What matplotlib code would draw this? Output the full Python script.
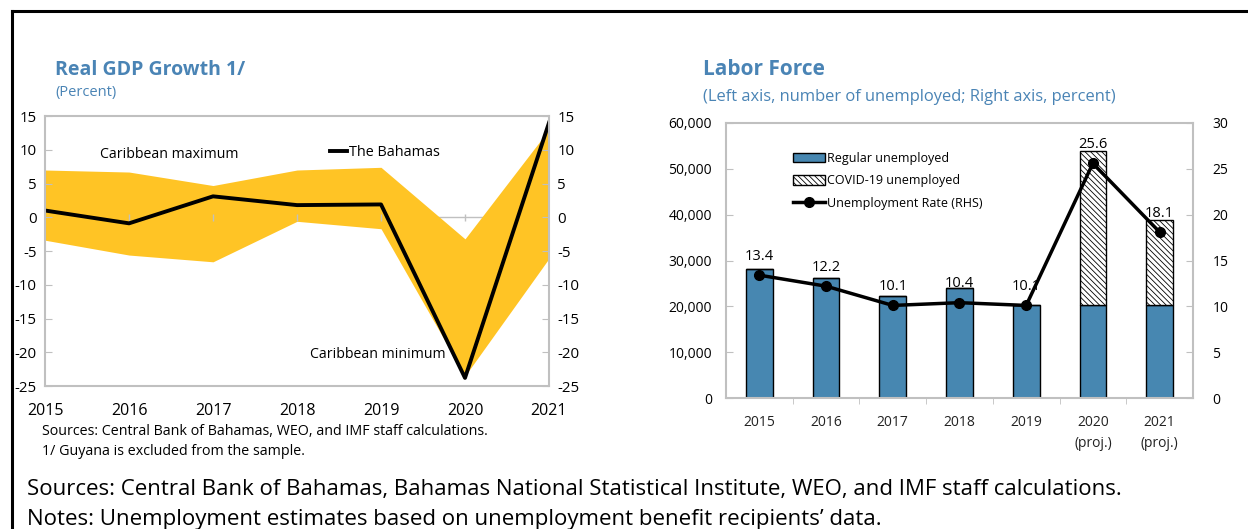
import matplotlib.pyplot as plt
import numpy as np
from matplotlib.ticker import FuncFormatter

plt.rcParams['font.family'] = ['Open Sans', 'DejaVu Sans']
plt.rcParams['hatch.linewidth'] = 0.6
plt.rcParams['axes.unicode_minus'] = False

# GDP growth panel
years = [2015, 2016, 2017, 2018, 2019, 2020, 2021]
bahamas = [1.0, -0.9, 3.1, 1.8, 1.9, -23.8, 14.0]
carib_max = [7.0, 6.7, 4.7, 7.0, 7.4, -3.2, 13.0]
carib_min = [-3.4, -5.6, -6.6, -0.6, -1.7, -23.5, -6.1]

# labor force panel
lf_labels = ["2015", "2016", "2017", "2018", "2019", "2020\n(proj.)", "2021\n(proj.)"]
regular = [28100, 26250, 22250, 24070, 20290, 20200, 20200]
covid = [0, 0, 0, 0, 0, 33600, 18700]
rate = [13.4, 12.2, 10.1, 10.4, 10.1, 25.6, 18.1]

blue_title = '#4A84B5'
frame = '#C0C0C0'
gold = '#FFC425'
bar_blue = '#4787B1'

fig = plt.figure(figsize=(12.48, 5.29), dpi=100)

# border lines
fig.add_artist(plt.Line2D([0.0096, 1.0], [0.979, 0.979], color='black', lw=2.2, transform=fig.transFigure))
fig.add_artist(plt.Line2D([0.0096, 0.0096], [0.979, 0.0], color='black', lw=2.2, transform=fig.transFigure))

# ---------- left panel ----------
ax1 = fig.add_axes([0.0361, 0.2703, 0.4038, 0.5104])
ax1.axhline(0, color=frame, lw=1.0, zorder=0.5)
ax1.fill_between(years, carib_min, carib_max, color=gold, lw=0, zorder=1)
ax1.vlines(years[1:-1], -0.5, 0.5, color=frame, lw=1.0, zorder=1.5)
ax1.plot(years, bahamas, color='black', lw=2.8, label='The Bahamas', zorder=2)
ax1.set_xlim(2015, 2021)
ax1.set_ylim(-25, 15)
ax1.set_yticks(np.arange(-25, 16, 5))
ax1.set_xticks(years)
for s in ax1.spines.values():
    s.set_color(frame)
    s.set_linewidth(1.5)
ax1.tick_params(axis='y', direction='in', length=5, color=frame, labelsize=10.8,
                right=True, labelright=True, pad=6)
ax1.tick_params(axis='x', length=0, labelsize=11.5, pad=12)
ax1.text(0.11, 0.857, 'Caribbean maximum', transform=ax1.transAxes, fontsize=10.2, va='center')
ax1.text(0.525, 0.118, 'Caribbean minimum', transform=ax1.transAxes, fontsize=10.2, va='center')
ax1.legend(loc='center left', bbox_to_anchor=(0.565, 0.863), frameon=False, fontsize=10.4,
           handlelength=1.2, handletextpad=0.1, borderpad=0, borderaxespad=0)

fig.text(0.044, 0.868, 'Real GDP Growth 1/', color=blue_title, fontsize=14, fontweight='bold', va='center')
fig.text(0.044, 0.826, '(Percent)', color=blue_title, fontsize=10.5, va='center')
fig.text(0.034, 0.185, 'Sources: Central Bank of Bahamas, WEO, and IMF staff calculations.', fontsize=10.3, va='center')
fig.text(0.034, 0.147, '1/ Guyana is excluded from the sample.', fontsize=10.3, va='center')

# ---------- right panel ----------
ax2 = fig.add_axes([0.5817, 0.2476, 0.3742, 0.5199])
x = np.arange(len(lf_labels))
ax2.bar(x, regular, width=0.4, color=bar_blue, edgecolor='black', lw=1.0, label='Regular unemployed')
ax2.bar(x, covid, width=0.4, bottom=regular, color='white', edgecolor='black', lw=1.0,
        hatch='\\\\\\\\\\\\', label='COVID-19 unemployed')
ax2.set_xlim(-0.5, 6.5)
ax2.set_ylim(0, 60000)
ax2.set_yticks(np.arange(0, 60001, 10000))
ax2.yaxis.set_major_formatter(FuncFormatter(lambda v, p: f'{v:,.0f}'))
ax2.set_xticks(x)
ax2.set_xticklabels(lf_labels, linespacing=1.6)
ax2.set_xticks(x[:-1] + 0.5, minor=True)
for s in ax2.spines.values():
    s.set_color(frame)
    s.set_linewidth(1.5)
ax2.tick_params(axis='y', direction='in', length=5, color=frame, labelsize=10, pad=10)
ax2.tick_params(axis='x', which='major', length=0, labelsize=10, pad=12, labelcolor='#222222')
ax2.tick_params(axis='x', which='minor', direction='out', length=4, color=frame)

ax3 = ax2.twinx()
ax3.plot(x, rate, color='black', lw=2.5, marker='o', markersize=7, label='Unemployment Rate (RHS)')
ax3.set_ylim(0, 30)
ax3.set_yticks(np.arange(0, 31, 5))
for s in ax3.spines.values():
    s.set_visible(False)
ax3.tick_params(axis='y', direction='in', length=5, color=frame, labelsize=10, pad=14)
for xi, r in zip(x, rate):
    ax3.annotate(f'{r:.1f}', (xi, r), xytext=(0, 13.7), textcoords='offset points',
                 ha='center', va='center', fontsize=10.5)

h1, l1 = ax2.get_legend_handles_labels()
h2, l2 = ax3.get_legend_handles_labels()
ax3.legend(h1 + h2, l1 + l2, loc='upper left', bbox_to_anchor=(0.143, 0.895), frameon=False,
           fontsize=9, handlelength=2.55, handleheight=0.8, handletextpad=0.2,
           labelspacing=0.75, borderpad=0, borderaxespad=0)

fig.text(0.5633, 0.868, 'Labor Force', color=blue_title, fontsize=15, fontweight='bold', va='center')
fig.text(0.5633, 0.817, '(Left axis, number of unemployed; Right axis, percent)', color=blue_title,
         fontsize=11.9, va='center')

# footer
fig.text(0.0216, 0.074, 'Sources: Central Bank of Bahamas, Bahamas National Statistical Institute, WEO, and IMF staff calculations.',
         fontsize=16, va='center')
fig.text(0.0216, 0.018, 'Notes: Unemployment estimates based on unemployment benefit recipients\u2019 data.',
         fontsize=16, va='center')

fig.savefig('out.png', dpi=100)
